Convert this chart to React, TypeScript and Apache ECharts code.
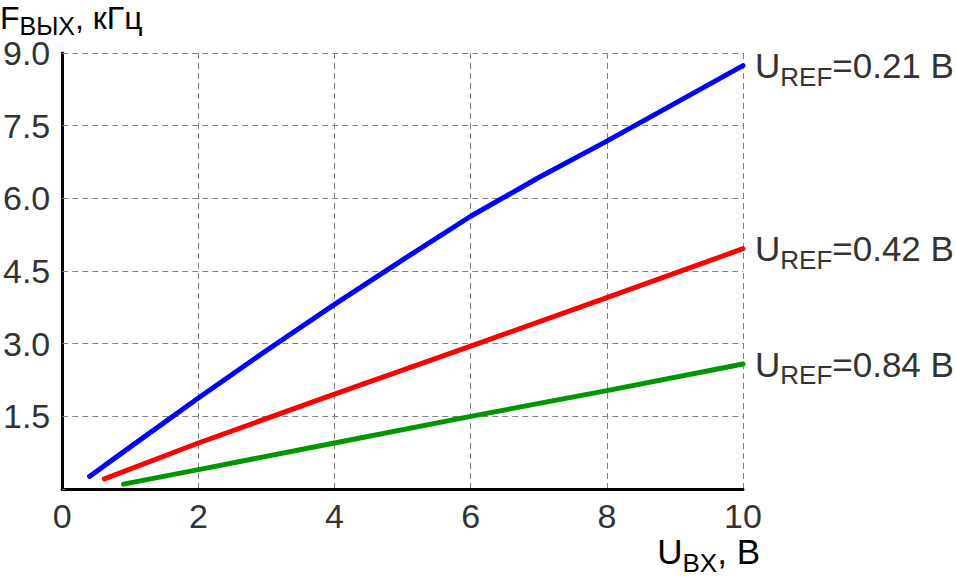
import React, { useEffect, useRef } from "react";
import * as echarts from "echarts";

const uRefLabels = ["0.21", "0.42", "0.84"];
const seriesColors = ["#0000ff", "#ff0000", "#009600"];

const blueX = [0.4, 1, 2, 3, 4, 5, 6, 7, 8, 9, 10];
const blueY = [0.26, 0.87, 1.88, 2.86, 3.81, 4.73, 5.63, 6.43, 7.18, 7.96, 8.74];
const redX = [0.62, 2, 4, 6, 8, 10];
const redY = [0.21, 0.95, 1.96, 2.95, 3.95, 4.96];
const greenX = [0.9, 2, 4, 6, 8, 10];
const greenY = [0.1, 0.4, 0.95, 1.5, 2.03, 2.58];

const xTicks = [0, 2, 4, 6, 8, 10];
const yTickStep = 1.5;
const yMax = 9;

const FONT = "'Liberation Sans', Arial, sans-serif";
const TEXT = "#333333";

function pairs(xs: number[], ys: number[]) {
  return xs.map((x, i) => [x, ys[i]]);
}

function richSet(main: number, sub: number, drop: number) {
  return {
    u: { fontSize: main, fontFamily: FONT, color: TEXT, verticalAlign: "middle" },
    s: { fontSize: sub, fontFamily: FONT, color: TEXT, verticalAlign: "middle", padding: [drop, 0, 0, 0] },
  };
}

export default function App() {
  const ref = useRef<HTMLDivElement>(null);
  useEffect(() => {
    if (!ref.current) return;
    const chart = echarts.init(ref.current, null, { renderer: "svg" });
    const data = [pairs(blueX, blueY), pairs(redX, redY), pairs(greenX, greenY)];
    const richMain = richSet(35, 26, 22);
    chart.setOption({
      animation: false,
      grid: { left: 61, right: 213, top: 53, bottom: 88, containLabel: false },
      xAxis: {
        type: "value",
        min: xTicks[0],
        max: xTicks[xTicks.length - 1],
        interval: xTicks[1] - xTicks[0],
        axisLine: { show: true, onZero: false, lineStyle: { color: "#000", width: 3 } },
        axisTick: { show: false },
        axisLabel: { fontSize: 34, fontFamily: FONT, color: TEXT, margin: 10 },
        splitLine: { show: true, lineStyle: { color: "#808080", type: [6, 4], width: 1 } },
      },
      yAxis: {
        type: "value",
        min: 0,
        max: yMax,
        interval: yTickStep,
        axisLine: { show: true, onZero: false, lineStyle: { color: "#000", width: 3 } },
        axisTick: { show: true, inside: true, length: 3, lineStyle: { color: "#808080" } },
        axisLabel: {
          fontSize: 34,
          fontFamily: FONT,
          color: TEXT,
          margin: 12,
          formatter: (v: number) => (v === 0 ? "" : v.toFixed(1)),
        },
        splitLine: { show: true, lineStyle: { color: "#808080", type: [6, 4], width: 1 } },
      },
      graphic: [
        {
          type: "text",
          left: 0,
          top: 2,
          style: {
            text: "{u|F}{s|ВЫХ}{u|, кГц}",
            rich: richSet(32, 25, 16),
          },
        },
        {
          type: "text",
          right: 196,
          top: 534,
          style: {
            text: "{u|U}{s|BX}{u|, B}",
            rich: richMain,
          },
        },
      ],
      series: data.map((d, i) => ({
        type: "line",
        name: uRefLabels[i],
        data: d,
        showSymbol: false,
        symbol: "none",
        lineStyle: { color: seriesColors[i], width: 5, cap: "round", join: "round" },
        itemStyle: { color: seriesColors[i] },
        endLabel: {
          show: true,
          distance: 12,
          formatter: () => `{u|U}{s|REF}{u|=${uRefLabels[i]} В}`,
          rich: richMain,
        },
        z: 3,
      })),
    });
    return () => chart.dispose();
  }, []);
  return <div ref={ref} style={{ width: 956, height: 577, position: "absolute", left: 0, top: 0 }} />;
}
